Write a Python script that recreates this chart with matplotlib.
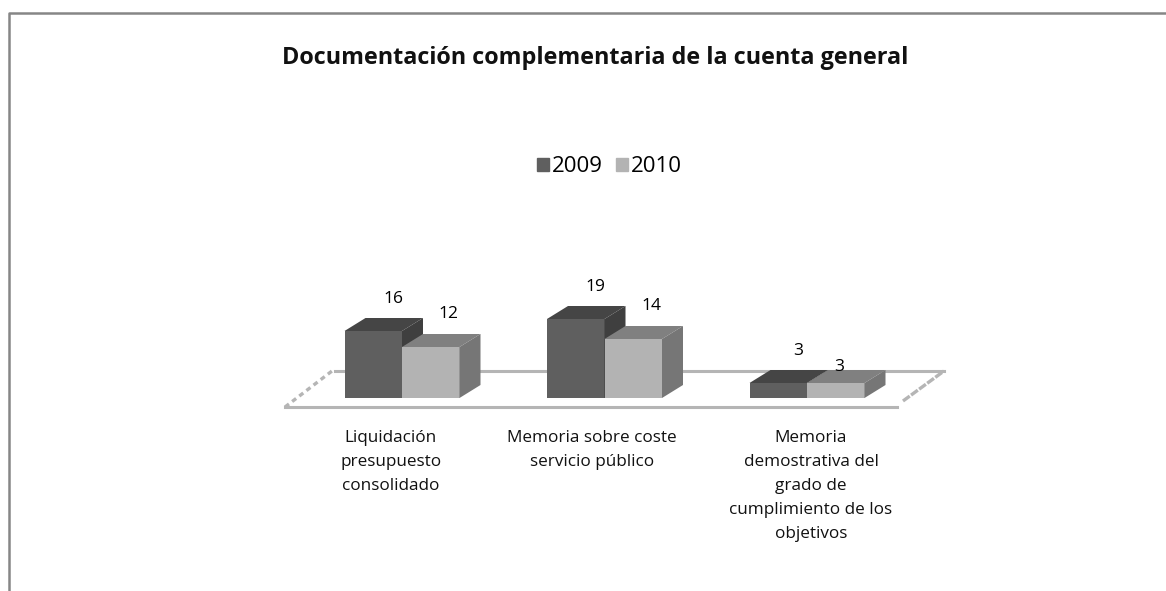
import matplotlib
matplotlib.use("Agg")
import matplotlib.pyplot as plt
from matplotlib.patches import Polygon, Patch

plt.rcParams['font.family'] = ['Open Sans', 'DejaVu Sans']

TITLE = "Documentación complementaria de la cuenta general"
categories = ["Liquidación\npresupuesto\nconsolidado",
              "Memoria sobre coste\nservicio público",
              "Memoria\ndemostrativa del\ngrado de\ncumplimiento de los\nobjetivos"]
years = ["2009", "2010"]
v2009 = [16, 19, 3]
v2010 = [12, 14, 3]

W, H = 1166, 591
SP = 202.5          # pixels between groups
BW = 57.5 / SP      # bar width in category units
DX = 21 / SP        # depth of the 3d effect
DY = 13 / 4
BASE = -0.75        # bars start a bit below zero

def px(x):
    return (x - 402) / SP

def py(y):
    return (395 - y) / 4

def bar3d(ax, x, v, front, top, side):
    ax.bar(x, v - BASE, BW, bottom=BASE, color=front, linewidth=0, zorder=3)
    l, r = x - BW / 2, x + BW / 2
    ax.add_patch(Polygon([(l, v), (r, v), (r + DX, v + DY), (l + DX, v + DY)],
                         fc=top, ec='none', zorder=3))
    ax.add_patch(Polygon([(r, BASE), (r, v), (r + DX, v + DY), (r + DX, BASE + DY)],
                         fc=side, ec='none', zorder=3))

fig = plt.figure(figsize=(W / 100, H / 100), dpi=100)
ax = fig.add_axes([0, 0, 1, 1])
ax.set_axis_off()
ax.set_xlim(px(0), px(W))
ax.set_ylim(py(H), py(0))

# outer frame of the chart
ax.plot([px(8.5), px(8.5), px(W)], [py(H), py(13), py(13)], color='#868686', lw=1.8, zorder=1)

# floor
floor = '#b5b5b5'
ax.plot([px(285), px(897)], [py(407), py(407)], color=floor, lw=2.2, zorder=1)
ax.plot([px(335), px(944)], [py(371), py(371)], color=floor, lw=2.2, zorder=1)
ax.plot([px(285), px(332)], [py(407), py(371)], color=floor, lw=2.4, ls=(0, (1.5, 1.2)), zorder=1)
ax.plot([px(903), px(944)], [py(401), py(371)], color=floor, lw=2.4, ls=(0, (2.5, 0.5)), zorder=1)

for i in range(3):
    bar3d(ax, i - BW / 2, v2009[i], '#5f5f5f', '#454545', '#3f3f3f')
    bar3d(ax, i + BW / 2, v2010[i], '#b3b3b3', '#808080', '#767676')

# data labels sit above and right of the bars
for i in range(3):
    ax.annotate(str(v2009[i]), (i - BW / 2, v2009[i]), xytext=(20 * .72, 32 * .72),
                textcoords='offset points', ha='center', va='center', fontsize=12.5, zorder=5)
    off = (3, 16) if i == 2 else (18, 33)
    ax.annotate(str(v2010[i]), (i + BW / 2, v2010[i]), xytext=(off[0] * .72, off[1] * .72),
                textcoords='offset points', ha='center', va='center', fontsize=12.5, zorder=5)

for i, lab in enumerate(categories):
    cx = [391, 592, 811][i]
    ax.text(px(cx), py(430), lab, ha='center', va='top', fontsize=12.3,
            linespacing=1.66, color='#111111')

ax.text(px(595.5), py(58), TITLE, ha='center', va='center', fontsize=16.8,
        fontweight='bold', color='#111111')

handles = [Patch(color='#5f5f5f', label=years[0]), Patch(color='#b3b3b3', label=years[1])]
ax.legend(handles=handles, ncol=2, loc='center', bbox_to_anchor=(609.5 / W, 1 - 167 / H),
          frameon=False, fontsize=16, handlelength=0.54, handleheight=0.54,
          handletextpad=0.1, columnspacing=0.62, borderpad=0)

fig.savefig('out.png', dpi=100)
